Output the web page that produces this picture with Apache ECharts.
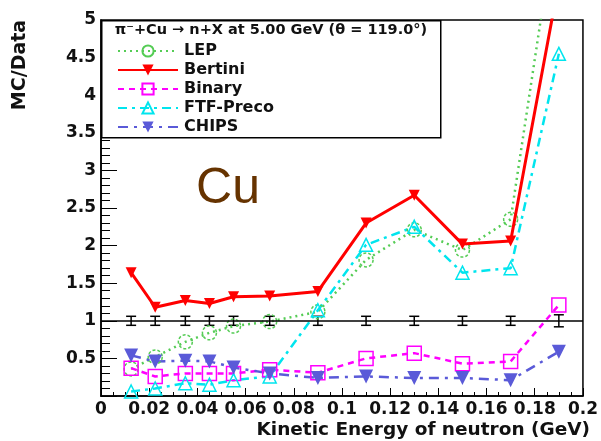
<!DOCTYPE html>
<html>
<head>
<meta charset="utf-8">
<style>
  html, body { margin: 0; padding: 0; background: #fff; }
  #main { width: 601px; height: 441px; }
</style>
<script src="https://cdn.jsdelivr.net/npm/echarts@6/dist/echarts.min.js"></script>
</head>
<body>
<div id="main"></div>
<script>
(function () {
    'use strict';

    // neutron kinetic energy bins (GeV)
    var energy = [0.0125, 0.0225, 0.035, 0.045, 0.055, 0.07, 0.09, 0.11, 0.13, 0.15, 0.17, 0.19];

    // MC/Data ratios per model
    var lep     = [0.36, 0.52, 0.72, 0.84, 0.93, 0.99, 1.12, 1.81, 2.21, 1.94, 2.35, 6.6];
    var bertini = [1.64, 1.18, 1.27, 1.23, 1.32, 1.33, 1.39, 2.30, 2.67, 2.02, 2.06, 5.5];
    var binary  = [0.37, 0.26, 0.30, 0.30, 0.30, 0.35, 0.31, 0.50, 0.57, 0.43, 0.46, 1.21];
    var ftf     = [0.06, 0.10, 0.17, 0.15, 0.21, 0.26, 1.14, 2.01, 2.25, 1.64, 1.70, 4.55];
    var chips   = [0.54, 0.46, 0.47, 0.46, 0.38, 0.30, 0.24, 0.26, 0.24, 0.24, 0.21, 0.59];

    // data/data error bars at 1
    var errLow  = [0.94, 0.94, 0.94, 0.94, 0.94, 0.94, 0.94, 0.94, 0.94, 0.94, 0.94, 0.92];
    var errHigh = [1.06, 1.06, 1.06, 1.06, 1.06, 1.06, 1.06, 1.06, 1.06, 1.06, 1.06, 1.08];

    var font = '"DejaVu Sans", Arial, sans-serif';

    function pairs(ys) {
        return energy.map(function (x, i) { return [x, ys[i]]; });
    }

    var myChart = echarts.init(document.getElementById('main'));

    var option = {
        animation: false,
        grid: {
            left: 101, right: 12, top: 20, bottom: 45,
            show: true, borderColor: '#000', borderWidth: 1.5,
            backgroundColor: '#fff'
        },
        xAxis: {
            type: 'value', min: 0, max: 0.2, interval: 0.02,
            axisLine: { onZero: false, lineStyle: { color: '#000', width: 1.5 } },
            axisTick: { inside: true, length: 8, lineStyle: { color: '#000' } },
            minorTick: { show: true, splitNumber: 4, length: 4, lineStyle: { color: '#000' } },
            splitLine: { show: false },
            axisLabel: {
                margin: 5, color: '#111', fontFamily: font, fontWeight: 'bold', fontSize: 17,
                formatter: function (v) { return String(parseFloat(v.toFixed(3))); }
            }
        },
        yAxis: {
            type: 'value', min: 0, max: 5, interval: 0.5,
            axisLine: { show: true, lineStyle: { color: '#000', width: 1.5 } },
            axisTick: { inside: true, length: 16, lineStyle: { color: '#000' } },
            minorTick: { show: true, splitNumber: 5, length: 9, lineStyle: { color: '#000' } },
            splitLine: { show: false },
            axisLabel: {
                margin: 5, color: '#111', fontFamily: font, fontWeight: 'bold', fontSize: 17,
                formatter: function (v) { return v === 0 ? '' : String(parseFloat(v.toFixed(2))); }
            }
        },
        legend: {
            orient: 'vertical',
            left: 112, top: 38, z: 100,
            itemWidth: 60, itemHeight: 14, itemGap: 3,
            textStyle: { fontFamily: font, fontWeight: 'bold', fontSize: 16, color: '#111', padding: [0, 0, 0, 1] },
            data: ['LEP', 'Bertini', 'Binary', 'FTF-Preco', 'CHIPS']
        },
        graphic: [
            {
                type: 'rect', left: 101, top: 20, z: 90,
                shape: { width: 339, height: 117 },
                style: { fill: '#fff', stroke: '#000', lineWidth: 1.5 }
            },
            {
                type: 'text', x: 271, y: 30, z: 91,
                style: {
                    text: 'π\u207B+Cu \u2192 n+X at 5.00 GeV (θ = 119.0\u00B0)',
                    font: 'bold 14.5px ' + font, fill: '#111',
                    align: 'center', verticalAlign: 'middle'
                }
            },
            {
                type: 'text', x: 228, y: 214, z: 50,
                style: {
                    text: 'Cu', font: '50px "Liberation Sans", Arial, sans-serif', fill: '#663300',
                    align: 'center', verticalAlign: 'bottom'
                }
            },
            {
                type: 'text', x: 20, y: 65, rotation: Math.PI / 2,
                style: {
                    text: 'MC/Data', font: 'bold 19px ' + font, fill: '#111',
                    align: 'center', verticalAlign: 'middle'
                }
            },
            {
                type: 'text', x: 590, y: 430,
                style: {
                    text: 'Kinetic Energy of neutron (GeV)', font: 'bold 18.5px ' + font, fill: '#111',
                    align: 'right', verticalAlign: 'middle'
                }
            }
        ],
        series: [
            {
                name: 'data', type: 'custom', z: 3,
                data: energy.map(function (x, i) { return [x, errLow[i], errHigh[i]]; }),
                markLine: {
                    silent: true, symbol: 'none', label: { show: false },
                    lineStyle: { color: '#000', type: 'solid', width: 1.5 },
                    data: [{ yAxis: 1 }]
                },
                renderItem: function (params, api) {
                    var lo = api.coord([api.value(0), api.value(1)]);
                    var hi = api.coord([api.value(0), api.value(2)]);
                    var w = 5;
                    var st = { stroke: '#000', lineWidth: 1.5 };
                    return {
                        type: 'group',
                        children: [
                            { type: 'line', shape: { x1: lo[0], y1: lo[1], x2: hi[0], y2: hi[1] }, style: st },
                            { type: 'line', shape: { x1: lo[0] - w, y1: lo[1], x2: lo[0] + w, y2: lo[1] }, style: st },
                            { type: 'line', shape: { x1: hi[0] - w, y1: hi[1], x2: hi[0] + w, y2: hi[1] }, style: st }
                        ]
                    };
                }
            },
            {
                name: 'LEP', type: 'line', data: pairs(lep), z: 4,
                symbol: 'circle', symbolSize: 14, showAllSymbol: true,
                itemStyle: { color: 'rgba(255,255,255,0)', borderColor: '#55cc55', borderWidth: 1.5, borderType: [3, 2] },
                lineStyle: { color: '#55cc55', width: 2.5, type: [2, 4] },
                color: '#55cc55'
            },
            {
                name: 'Bertini', type: 'line', data: pairs(bertini), z: 5,
                symbol: 'triangle', symbolRotate: 180, symbolSize: 11,
                itemStyle: { color: '#ff0000' },
                lineStyle: { color: '#ff0000', width: 3 },
                color: '#ff0000'
            },
            {
                name: 'Binary', type: 'line', data: pairs(binary), z: 4,
                symbol: 'rect', symbolSize: 14,
                itemStyle: { color: 'rgba(255,255,255,0)', borderColor: '#ff00ff', borderWidth: 1.5 },
                lineStyle: { color: '#ff00ff', width: 2.5, type: [6, 5] },
                color: '#ff00ff'
            },
            {
                name: 'FTF-Preco', type: 'line', data: pairs(ftf), z: 4,
                symbol: 'triangle', symbolSize: 13,
                itemStyle: { color: 'rgba(255,255,255,0)', borderColor: '#00e5ee', borderWidth: 1.5 },
                lineStyle: { color: '#00e5ee', width: 2.5, type: [9, 5, 3, 5] },
                color: '#00e5ee'
            },
            {
                name: 'CHIPS', type: 'line', data: pairs(chips), z: 4,
                symbol: 'triangle', symbolRotate: 180, symbolSize: 14,
                itemStyle: { color: '#5a5ad8' },
                lineStyle: { color: '#5a5ad8', width: 2.5, type: [10, 6, 3, 6] },
                color: '#5a5ad8'
            }
        ]
    };

    myChart.setOption(option);
    window.addEventListener('resize', function () {
        myChart.resize();
    });
})();
</script>
</body>
</html>
